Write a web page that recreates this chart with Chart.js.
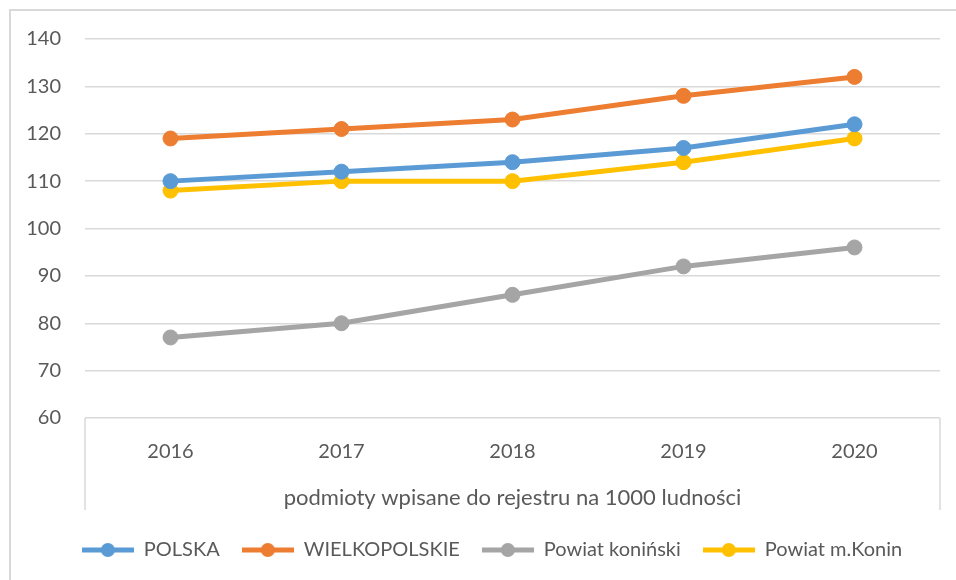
<!DOCTYPE html>
<html>
<head>
<meta charset="utf-8">
<script src="https://cdn.jsdelivr.net/npm/chart.js@4/dist/chart.umd.min.js"></script>
<style>
  html, body { margin: 0; padding: 0; background: #fff; }
  #wrap { position: relative; width: 956px; height: 580px; overflow: hidden; }
  #frame { position: absolute; left: 9px; top: 9px; width: 980px; height: 600px; border: 2px solid #d9d9d9; box-sizing: border-box; }
  canvas { position: absolute; left: 0; top: 0; }
</style>
</head>
<body>
<div id="wrap">
  <div id="frame"></div>
  <canvas id="c" width="956" height="580"></canvas>
</div>
<script>
const categories = ['2016', '2017', '2018', '2019', '2020'];
const seriesNames = ['POLSKA', 'WIELKOPOLSKIE', 'Powiat koniński', 'Powiat m.Konin'];
const polska = [110, 112, 114, 117, 122];
const wielkopolskie = [119, 121, 123, 128, 132];
const powiatKoninski = [77, 80, 86, 92, 96];
const powiatKonin = [108, 110, 110, 114, 119];
const yTicks = [60, 70, 80, 90, 100, 110, 120, 130, 140];
const xTitle = 'podmioty wpisane do rejestru na 1000 ludności';

const colors = ['#5B9BD5', '#ED7D31', '#A5A5A5', '#FFC000'];
const values = [polska, wielkopolskie, powiatKoninski, powiatKonin];
const FONT = 'Lato';
const textColor = '#595959';

function legendImage(color) {
  const cv = document.createElement('canvas');
  cv.width = 52; cv.height = 16;
  const g = cv.getContext('2d');
  g.strokeStyle = color; g.lineWidth = 5;
  g.beginPath(); g.moveTo(0, 8); g.lineTo(52, 8); g.stroke();
  g.fillStyle = color;
  g.beginPath(); g.arc(26, 8, 7, 0, Math.PI * 2); g.fill();
  return cv;
}
const legendImgs = colors.map(legendImage);

const boxPlugin = {
  id: 'boxLines',
  afterLayout(chart) {
    if (chart.legend) { chart.legend.left += 22; chart.legend.right += 22; }
  },
  afterDraw(chart) {
    const ca = chart.chartArea;
    const ctx = chart.ctx;
    const boxBottom = ca.bottom + 92;
    ctx.save();
    ctx.strokeStyle = '#d9d9d9';
    ctx.lineWidth = 1.5;
    ctx.beginPath();
    ctx.moveTo(ca.left, ca.bottom); ctx.lineTo(ca.left, boxBottom);
    ctx.moveTo(ca.right, ca.bottom); ctx.lineTo(ca.right, boxBottom);
    ctx.stroke();
    ctx.restore();
  }
};

new Chart(document.getElementById('c'), {
  type: 'line',
  data: {
    labels: categories,
    datasets: seriesNames.map((n, i) => ({
      label: n,
      data: values[i],
      borderColor: colors[i],
      backgroundColor: colors[i],
      borderWidth: 5,
      pointRadius: 7.5,
      pointHoverRadius: 7.5,
      pointBorderWidth: 1,
      pointBackgroundColor: colors[i],
      pointBorderColor: colors[i],
      tension: 0,
      fill: false
    }))
  },
  options: {
    responsive: false,
    animation: false,
    layout: { padding: { left: 0, right: 16, top: 39, bottom: 10 } },
    plugins: {
      tooltip: { enabled: false },
      legend: {
        position: 'bottom',
        labels: {
          font: { family: FONT, size: 20 },
          color: textColor,
          usePointStyle: true,
          pointStyleWidth: 52,
          boxHeight: 16,
          padding: 22,
          generateLabels(chart) {
            const items = Chart.defaults.plugins.legend.labels.generateLabels(chart);
            items.forEach((it, i) => { it.pointStyle = legendImgs[i]; });
            return items;
          }
        }
      }
    },
    scales: {
      x: {
        type: 'category',
        offset: true,
        grid: { display: false, drawTicks: false },
        border: { display: false },
        ticks: { font: { family: FONT, size: 20 }, color: textColor, padding: 22 },
        title: { display: true, text: xTitle, font: { family: FONT, size: 22 }, color: textColor, padding: { top: 0, bottom: 7 } },
        afterFit(s) { s.height = 100; }
      },
      y: {
        min: 60, max: 140,
        afterBuildTicks(s) { s.ticks = yTicks.map(v => ({ value: v })); },
        grid: { color: '#d9d9d9', lineWidth: 1.5, drawTicks: false },
        border: { display: false },
        ticks: { font: { family: FONT, size: 20 }, color: textColor, padding: 24 },
        afterFit(s) { s.width = 85; }
      }
    }
  },
  plugins: [boxPlugin]
});
</script>
</body>
</html>
